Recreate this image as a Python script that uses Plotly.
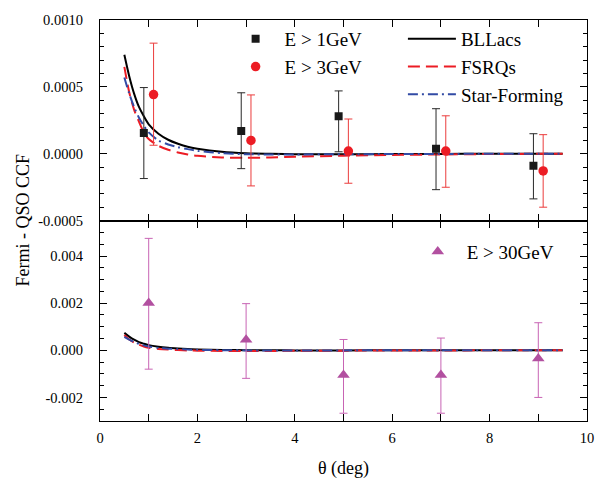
import plotly.graph_objects as go

# Angular bins (deg) and cross-correlation measurements
theta_1gev = [0.9, 2.9, 4.9, 6.9, 8.9]
ccf_1gev = [0.000155, 0.00017, 0.00028, 0.000037, -0.00009]
err_1gev_up = [0.00034, 0.000286, 0.00019, 0.0003, 0.00024]
err_1gev_dn = [0.00034, 0.000281, 0.000265, 0.000305, 0.000247]

theta_3gev = [1.1, 3.1, 5.1, 7.1, 9.1]
ccf_3gev = [0.000443, 0.0001, 0.00002, 0.00002, -0.000128]
err_3gev_up = [0.000384, 0.00034, 0.00024, 0.000264, 0.000271]
err_3gev_dn = [0.000379, 0.00034, 0.00024, 0.00027, 0.000271]

theta_30gev = [1.0, 3.0, 5.0, 7.0, 9.0]
ccf_30gev = [0.00201, 0.00045, -0.00105, -0.00105, -0.00035]
err_30gev_up = [0.00274, 0.00153, 0.00151, 0.00157, 0.00152]
err_30gev_dn = [0.00281, 0.00164, 0.00162, 0.00162, 0.00165]

# Model predictions sampled along theta
theta_model = [0.5, 0.6, 0.7, 0.8, 0.9, 1.0, 1.2, 1.4, 1.6, 1.8, 2.0,
               2.5, 3.0, 3.5, 4.0, 5.0, 6.0, 7.0, 8.0, 9.0, 9.5]
model_bllacs = [0.00074, 0.00058, 0.00045, 0.00035, 0.00028, 0.00022,
                0.00015, 0.000105, 0.000075, 0.000052, 0.000038,
                0.000015, 0.000004, 0.0, -0.000003, -0.000003, -0.000002,
                -0.000001, 0.0, 0.0, 0.0]
model_fsrqs = [0.00065, 0.00046, 0.00033, 0.00024, 0.00016, 0.00011,
               0.00006, 0.00003, 0.00001, -0.000005, -0.000015,
               -0.000027, -0.00003, -0.000027, -0.000022, -0.000014,
               -0.000009, -0.000005, -0.000002, 0.0, 0.0]
model_sf = [0.00057, 0.00045, 0.00035, 0.00027, 0.00021, 0.00016,
            0.0001, 0.00007, 0.00005, 0.000035, 0.000022,
            0.000005, -0.000003, -0.000005, -0.000005, -0.000003,
            -0.000002, -0.000001, 0.0, 0.0, 0.0]

# Tick labels
x_ticks = [0, 2, 4, 6, 8, 10]
x_ticktext = ["0", "2", "4", "6", "8", "10"]
top_ticks = [-0.0005, 0.0, 0.0005, 0.0010]
top_ticktext = ["-0.0005", "0.0000", "0.0005", "0.0010"]
bot_ticks = [-0.002, 0.0, 0.002, 0.004]
bot_ticktext = ["-0.002", "0.000", "0.002", "0.004"]

SERIF = "Liberation Serif"
RED = "rgb(236,28,36)"
BLUE = "rgb(50,75,165)"
MAGENTA = "rgb(178,80,160)"

fig = go.Figure()

models = [
    ("BLLacs", model_bllacs, dict(color="black", width=2, dash="solid")),
    ("FSRQs", model_fsrqs, dict(color=RED, width=2, dash="12px,6px")),
    ("Star-Forming", model_sf, dict(color=BLUE, width=2, dash="10px,4px,2px,4px")),
]

# Upper panel: models + 1 GeV / 3 GeV points
for name, vals, style in models:
    fig.add_trace(go.Scatter(
        x=theta_model, y=vals, mode="lines", name=name,
        line=dict(shape="spline", smoothing=0.8, **style),
        xaxis="x2", yaxis="y2", legend="legend2"))

fig.add_trace(go.Scatter(
    x=theta_1gev, y=ccf_1gev, mode="markers", name="E > 1GeV",
    marker=dict(symbol="square", size=8, color="rgb(25,25,25)"),
    error_y=dict(type="data", array=err_1gev_up, arrayminus=err_1gev_dn,
                 color="rgb(40,40,40)", thickness=1, width=4),
    xaxis="x2", yaxis="y2", legend="legend"))
fig.add_trace(go.Scatter(
    x=theta_3gev, y=ccf_3gev, mode="markers", name="E > 3GeV",
    marker=dict(symbol="circle", size=9.5, color=RED),
    error_y=dict(type="data", array=err_3gev_up, arrayminus=err_3gev_dn,
                 color="rgb(235,60,60)", thickness=1, width=4),
    xaxis="x2", yaxis="y2", legend="legend"))

# Lower panel: same models + 30 GeV points
for name, vals, style in models:
    fig.add_trace(go.Scatter(
        x=theta_model, y=vals, mode="lines", name=name, showlegend=False,
        line=dict(shape="spline", smoothing=0.8, **style),
        xaxis="x", yaxis="y"))

fig.add_trace(go.Scatter(
    x=theta_30gev, y=ccf_30gev, mode="markers", name="E > 30GeV",
    marker=dict(symbol="triangle-up", size=11, color=MAGENTA),
    error_y=dict(type="data", array=err_30gev_up, arrayminus=err_30gev_dn,
                 color="rgb(200,100,180)", thickness=1, width=4),
    xaxis="x", yaxis="y", legend="legend3"))

axis_common = dict(
    showline=True, linecolor="black", linewidth=1.3, mirror="allticks",
    ticks="inside", ticklen=7, tickwidth=1, tickcolor="black",
    showgrid=False, zeroline=False,
    tickfont=dict(family=SERIF, size=14.5, color="black"),
)

legend_common = dict(xanchor="left", yanchor="top", bgcolor="rgba(0,0,0,0)",
                     font=dict(family=SERIF, size=19), itemwidth=48,
                     tracegroupgap=0)

fig.update_layout(
    width=606, height=486,
    margin=dict(l=100, r=17, t=16, b=63),
    paper_bgcolor="white", plot_bgcolor="white",
    font=dict(family=SERIF, color="black"),
    xaxis=dict(domain=[0, 1], anchor="y", range=[0, 10],
               tickvals=x_ticks, ticktext=x_ticktext, ticklabelstandoff=3,
               minor=dict(dtick=1, ticks="inside", ticklen=7, tickcolor="black"),
               title=dict(text="θ (deg)", font=dict(family=SERIF, size=18), standoff=16),
               **axis_common),
    xaxis2=dict(domain=[0, 1], anchor="y2", range=[0, 10], matches="x",
                tickvals=x_ticks, showticklabels=False,
                minor=dict(dtick=1, ticks="inside", ticklen=7, tickcolor="black"),
                **axis_common),
    yaxis=dict(domain=[0, 0.4995], anchor="x", range=[-0.003, 0.0055],
               tickvals=bot_ticks, ticktext=bot_ticktext, ticklabelstandoff=13,
               minor=dict(tick0=0, dtick=0.0005, ticks="inside", ticklen=4, tickcolor="black"),
               **axis_common),
    yaxis2=dict(domain=[0.4995, 1], anchor="x2", range=[-0.0005, 0.001],
                tickvals=top_ticks, ticktext=top_ticktext, ticklabelstandoff=13,
                minor=dict(tick0=0, dtick=0.0001, ticks="inside", ticklen=4, tickcolor="black"),
                **axis_common),
    legend=dict(x=0.26, y=1.0, **legend_common),
    legend2=dict(x=0.622, y=1.0, **legend_common),
    legend3=dict(x=0.634, y=0.470, **legend_common),
    annotations=[dict(
        text="Fermi - QSO CCF", textangle=-90, xref="paper", yref="paper",
        x=-0.16, y=0.5, xanchor="center", yanchor="middle", showarrow=False,
        font=dict(family=SERIF, size=18))],
)

fig.write_html("out.html")
